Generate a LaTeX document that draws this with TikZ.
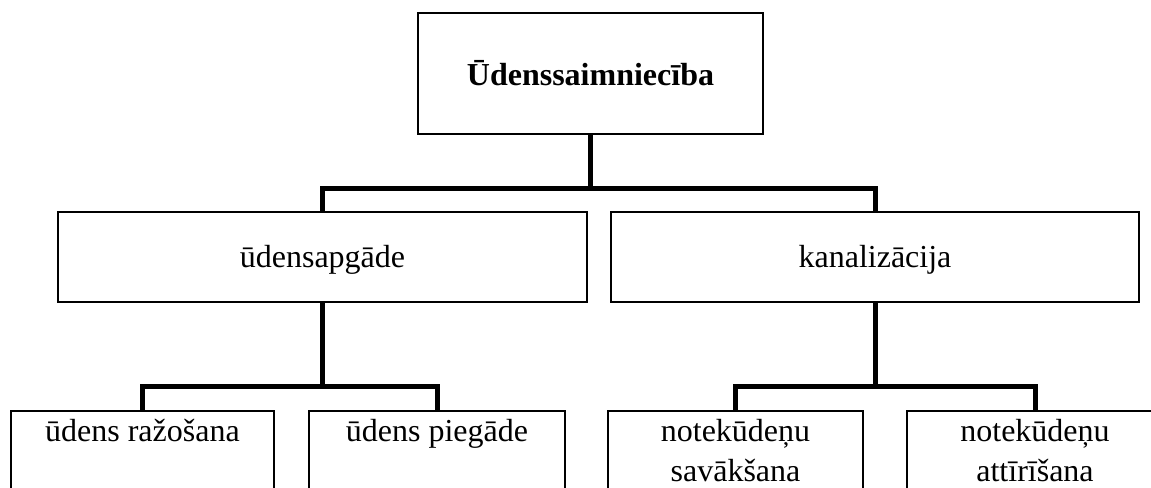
\documentclass[tikz,border=0pt]{standalone}
\usepackage{fontspec}
\setmainfont{Liberation Serif}

\begin{document}
\begin{tikzpicture}[x=0.75pt,y=0.75pt,yscale=-1,xscale=1,
	box/.style={draw, line width=1.5pt, inner sep=0pt, font=\fontsize{24}{30}\selectfont},
	midbox/.style={box, minimum height=67.5pt, text height=20pt, text depth=5pt},
	leafbox/.style={box, anchor=north},
	link/.style={line width=3.75pt, line join=miter}]
		\path [use as bounding box, clip] (0,0) rectangle (1151,488);
		% top level
		\node [box, minimum width=258.75pt, minimum height=90.75pt] (saimn) at (590.5,73.5) {\textbf{Ūdenssaimniecība}};
		% second level
		\node [midbox, minimum width=396.75pt] (apg) at (322.5,257) {ūdensapgāde};
		\node [midbox, minimum width=396pt] (kan) at (875,257) {kanalizācija};
		% third level
		\node [leafbox, minimum width=197.25pt] (raz) at (142.5,410) {\parbox[b][75pt][t]{180pt}{\centering\rule{0pt}{22.5pt}ūdens ražošana}};
		\node [leafbox, minimum width=192pt] (pieg) at (437,410) {\parbox[b][75pt][t]{180pt}{\centering\rule{0pt}{22.5pt}ūdens piegāde}};
		\node [leafbox, minimum width=191.25pt] (sav) at (735.5,410) {\parbox[b][75pt][t]{180pt}{\centering\rule{0pt}{22.5pt}notekūdeņu\\savākšana}};
		\node [leafbox, minimum width=192pt] (att) at (1035,410) {\parbox[b][75pt][t]{180pt}{\centering\rule{0pt}{22.5pt}notekūdeņu\\attīrīšana}};
		% connectors
		\draw [link] (saimn.south) -- ++(0,54) coordinate (j0);
		\draw [link] (apg.north) |- (j0) -| (kan.north);
		\draw [link] (apg.south) -- ++(0,83) coordinate (j1);
		\draw [link] (raz.north) |- (j1) -| (pieg.north);
		\draw [link] (kan.south) -- ++(0,83) coordinate (j2);
		\draw [link] (sav.north) |- (j2) -| (att.north);
\end{tikzpicture}
\end{document}
